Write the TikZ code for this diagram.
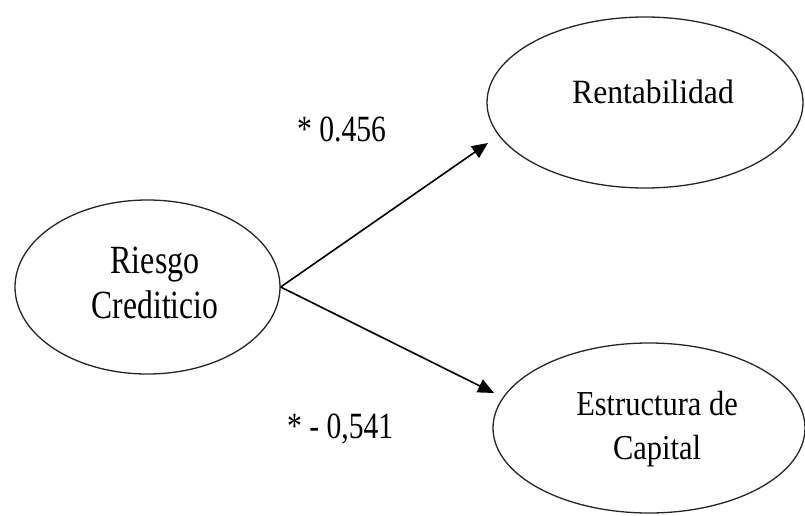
\documentclass[tikz,border=0pt]{standalone}
\usepackage{fontspec}
\setmainfont{Liberation Serif}
\usetikzlibrary{shapes.geometric,arrows.meta}
\newcommand{\narrow}[2]{\scalebox{#1}[1]{#2}}
\begin{document}
\begin{tikzpicture}[x=1pt,y=-1pt,
  construct/.style={draw=black!85, ellipse, line width=1.3pt, inner sep=0pt},
  ctext/.style={anchor=base, inner sep=0pt},
  coef/.style={anchor=base west, inner sep=0pt, font=\fontsize{37}{40}\selectfont},
  path/.style={line width=1.6pt, -{Triangle[length=16pt,width=14pt]}}
]
\useasboundingbox (0,0) rectangle (805,516);
\fill[white] (0,0) rectangle (805,516);

% latent constructs
\node[construct, minimum width=265pt, minimum height=174pt] (rc) at (147.5,287) {};
\node[construct, minimum width=316pt, minimum height=171pt] (rent) at (645,102.5) {};
\node[construct, minimum width=312pt, minimum height=170pt] (ec) at (649,428) {};

% construct names
\node[ctext, font=\fontsize{40}{45}\selectfont] (rcA) at (155,273) {\narrow{0.8}{Riesgo}};
\node[ctext, font=\fontsize{40}{45}\selectfont] (rcB) at (155,318) {\narrow{0.79}{Crediticio}};
\node[ctext, font=\fontsize{34}{45}\selectfont] (rentT) at (653,103) {\narrow{0.93}{Rentabilidad}};
\node[ctext, font=\fontsize{35}{45}\selectfont] (ecA) at (657,415) {\narrow{0.87}{Estructura de}};
\node[ctext, font=\fontsize{35}{45}\selectfont] (ecB) at (657,459) {\narrow{0.87}{Capital}};

% structural paths
\coordinate (tipA) at (488,143);
\coordinate (tipB) at (494,393);
\draw[path] (rc.east) -- (tipA);
\draw[path] (rc.east) -- (tipB);

% path coefficients
\node[coef] (cA) at (297,142) {\narrow{0.8}{* 0.456}};
\node[coef] (cB) at (287,438) {\narrow{0.8}{* - 0,541}};
\end{tikzpicture}
\end{document}
